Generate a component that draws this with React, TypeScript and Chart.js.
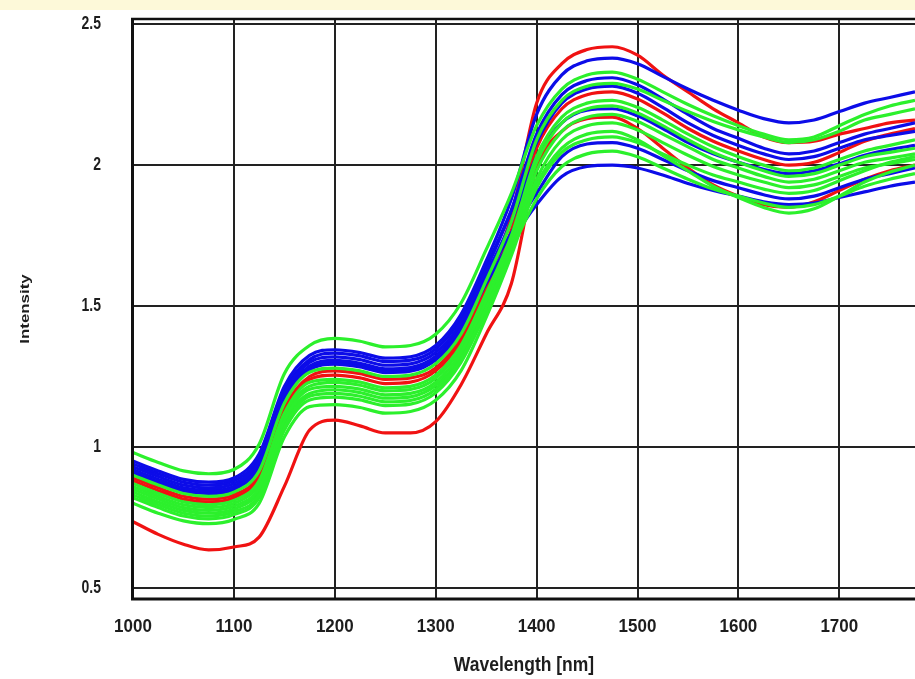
import React, { useEffect, useRef } from "react";
import { Chart, registerables } from "chart.js";

Chart.register(...registerables);

// Sampling grid of the spectra (nm)
const wavelengths = [
  1000, 1025, 1050, 1075, 1100, 1125, 1150, 1175, 1200, 1225, 1250, 1275, 1300, 1325, 1350, 1375,
  1400, 1425, 1450, 1475, 1500, 1525, 1550, 1575, 1600, 1625, 1650, 1675, 1700, 1725, 1750, 1775,
];

const xTickValues = [1000, 1100, 1200, 1300, 1400, 1500, 1600, 1700];
const yTickValues = [0.5, 1, 1.5, 2, 2.5];
const yTickLabels = ["0.5", "1", "1.5", "2", "2.5"];

// Green group spectra
const green1 = [0.98, 0.945, 0.915, 0.905, 0.92, 1.01, 1.26, 1.36, 1.385, 1.375, 1.355, 1.36, 1.4, 1.51, 1.7, 1.9, 2.14, 2.27, 2.32, 2.33, 2.305, 2.26, 2.215, 2.175, 2.14, 2.11, 2.09, 2.1, 2.14, 2.18, 2.21, 2.23];
const green2 = [0.9, 0.865, 0.835, 0.825, 0.84, 0.915, 1.155, 1.265, 1.28, 1.27, 1.25, 1.255, 1.295, 1.4, 1.59, 1.8, 2.09, 2.23, 2.28, 2.29, 2.27, 2.23, 2.19, 2.155, 2.125, 2.1, 2.08, 2.09, 2.12, 2.16, 2.18, 2.2];
const green3 = [0.87, 0.835, 0.805, 0.795, 0.81, 0.88, 1.12, 1.23, 1.24, 1.23, 1.21, 1.215, 1.255, 1.36, 1.545, 1.75, 2.03, 2.17, 2.22, 2.23, 2.205, 2.16, 2.11, 2.065, 2.03, 2.0, 1.98, 1.99, 2.02, 2.05, 2.07, 2.09];
const green4 = [0.85, 0.815, 0.785, 0.775, 0.79, 0.855, 1.095, 1.205, 1.215, 1.205, 1.185, 1.19, 1.23, 1.335, 1.52, 1.73, 2.01, 2.15, 2.2, 2.21, 2.185, 2.14, 2.09, 2.045, 2.01, 1.98, 1.96, 1.97, 2.0, 2.03, 2.045, 2.06];
const green5 = [0.83, 0.795, 0.765, 0.755, 0.77, 0.83, 1.07, 1.18, 1.19, 1.18, 1.16, 1.165, 1.205, 1.31, 1.495, 1.71, 1.98, 2.12, 2.17, 2.18, 2.155, 2.11, 2.065, 2.02, 1.99, 1.96, 1.94, 1.95, 1.98, 2.01, 2.025, 2.04];
const green6 = [0.82, 0.785, 0.755, 0.745, 0.76, 0.82, 1.06, 1.167, 1.177, 1.167, 1.147, 1.152, 1.192, 1.3, 1.48, 1.69, 1.95, 2.09, 2.14, 2.15, 2.125, 2.08, 2.035, 1.995, 1.965, 1.94, 1.92, 1.93, 1.96, 1.99, 2.005, 2.02];
const green7 = [0.8, 0.765, 0.738, 0.728, 0.743, 0.8, 1.035, 1.143, 1.15, 1.14, 1.12, 1.126, 1.166, 1.27, 1.46, 1.68, 1.93, 2.06, 2.11, 2.12, 2.09, 2.035, 1.98, 1.925, 1.885, 1.85, 1.83, 1.845, 1.89, 1.94, 1.975, 2.0];
const green8 = [0.86, 0.825, 0.795, 0.785, 0.8, 0.87, 1.11, 1.216, 1.229, 1.219, 1.199, 1.204, 1.244, 1.35, 1.53, 1.7, 1.88, 1.995, 2.04, 2.05, 2.03, 1.99, 1.95, 1.915, 1.89, 1.865, 1.85, 1.86, 1.89, 1.925, 1.95, 1.97];
const green9 = [0.84, 0.805, 0.775, 0.765, 0.78, 0.845, 1.085, 1.19, 1.203, 1.193, 1.173, 1.178, 1.218, 1.32, 1.505, 1.7, 1.92, 2.045, 2.09, 2.1, 2.08, 2.04, 2.0, 1.965, 1.94, 1.915, 1.9, 1.91, 1.945, 1.98, 2.01, 2.03];

// Blue group spectra
const blue1 = [0.95, 0.915, 0.885, 0.875, 0.89, 0.975, 1.215, 1.325, 1.345, 1.335, 1.315, 1.32, 1.36, 1.47, 1.66, 1.88, 2.18, 2.32, 2.37, 2.38, 2.36, 2.315, 2.27, 2.23, 2.195, 2.165, 2.15, 2.16, 2.19, 2.22, 2.24, 2.26];
const blue2 = [0.93, 0.895, 0.865, 0.855, 0.87, 0.95, 1.19, 1.3, 1.32, 1.31, 1.29, 1.295, 1.335, 1.44, 1.63, 1.84, 2.11, 2.25, 2.3, 2.31, 2.285, 2.235, 2.18, 2.13, 2.095, 2.06, 2.04, 2.05, 2.08, 2.11, 2.13, 2.15];
const blue3 = [0.94, 0.905, 0.875, 0.865, 0.88, 0.96, 1.2, 1.31, 1.333, 1.323, 1.303, 1.308, 1.348, 1.455, 1.64, 1.84, 2.08, 2.22, 2.27, 2.28, 2.255, 2.205, 2.15, 2.105, 2.07, 2.04, 2.02, 2.03, 2.06, 2.09, 2.105, 2.12];
const blue4 = [0.92, 0.885, 0.855, 0.845, 0.86, 0.94, 1.18, 1.287, 1.307, 1.297, 1.277, 1.282, 1.322, 1.425, 1.6, 1.76, 1.9, 2.03, 2.075, 2.08, 2.06, 2.02, 1.98, 1.945, 1.92, 1.895, 1.88, 1.89, 1.92, 1.95, 1.97, 1.99];
const blue5 = [0.91, 0.875, 0.845, 0.835, 0.85, 0.93, 1.165, 1.274, 1.294, 1.284, 1.264, 1.269, 1.309, 1.41, 1.58, 1.73, 1.86, 1.96, 1.995, 2.0, 1.99, 1.965, 1.935, 1.91, 1.89, 1.87, 1.86, 1.865, 1.885, 1.905, 1.925, 1.94];
const blue6 = [0.91, 0.875, 0.845, 0.835, 0.85, 0.93, 1.17, 1.28, 1.3, 1.29, 1.27, 1.275, 1.315, 1.42, 1.61, 1.8, 2.03, 2.15, 2.195, 2.2, 2.175, 2.13, 2.08, 2.04, 2.01, 1.985, 1.97, 1.98, 2.005, 2.035, 2.055, 2.07];

// Red group spectra
const red1 = [0.89, 0.855, 0.825, 0.815, 0.83, 0.9, 1.14, 1.25, 1.27, 1.26, 1.24, 1.245, 1.28, 1.39, 1.58, 1.82, 2.22, 2.36, 2.41, 2.42, 2.39, 2.32, 2.26, 2.2, 2.15, 2.1, 2.08, 2.085, 2.11, 2.13, 2.15, 2.16];
const red2 = [0.88, 0.845, 0.815, 0.805, 0.82, 0.89, 1.13, 1.24, 1.255, 1.245, 1.225, 1.23, 1.27, 1.375, 1.56, 1.77, 2.06, 2.2, 2.25, 2.26, 2.235, 2.185, 2.13, 2.085, 2.05, 2.02, 2.0, 2.01, 2.045, 2.085, 2.11, 2.13];
const red3 = [0.735, 0.69, 0.655, 0.635, 0.645, 0.68, 0.86, 1.06, 1.095, 1.075, 1.05, 1.05, 1.09, 1.22, 1.4, 1.58, 1.99, 2.12, 2.165, 2.17, 2.13, 2.06, 1.99, 1.93, 1.89, 1.86, 1.85, 1.87, 1.91, 1.95, 1.98, 2.0];

const GREEN = "#2cf02c";
const BLUE = "#0c0ce8";
const RED = "#f01212";

const spectra = [
  { name: "G1", color: GREEN, values: green1 },
  { name: "G2", color: GREEN, values: green2 },
  { name: "G3", color: GREEN, values: green3 },
  { name: "G4", color: GREEN, values: green4 },
  { name: "G5", color: GREEN, values: green5 },
  { name: "G6", color: GREEN, values: green6 },
  { name: "G7", color: GREEN, values: green7 },
  { name: "G8", color: GREEN, values: green8 },
  { name: "G9", color: GREEN, values: green9 },
  { name: "B1", color: BLUE, values: blue1 },
  { name: "B2", color: BLUE, values: blue2 },
  { name: "B3", color: BLUE, values: blue3 },
  { name: "B4", color: BLUE, values: blue4 },
  { name: "B5", color: BLUE, values: blue5 },
  { name: "B6", color: BLUE, values: blue6 },
  { name: "R1", color: RED, values: red1 },
  { name: "R2", color: RED, values: red2 },
  { name: "R3", color: RED, values: red3 },
];

const FONT = "'Liberation Sans', Arial, Helvetica, sans-serif";
const INK = "#1d1d1d";
const GRID = "#222222";

// Draws text stretched along one axis (sx, sy) around an anchor point
function drawText(
  ctx: CanvasRenderingContext2D,
  text: string,
  x: number,
  y: number,
  size: number,
  sx: number,
  sy: number,
  align: CanvasTextAlign,
  rotation = 0
) {
  ctx.save();
  ctx.translate(x, y);
  if (rotation) ctx.rotate(rotation);
  ctx.scale(sx, sy);
  ctx.font = `bold ${size}px ${FONT}`;
  ctx.fillStyle = INK;
  ctx.textAlign = align;
  ctx.textBaseline = "middle";
  ctx.fillText(text, 0, 0);
  ctx.restore();
}

const pagePlugin = {
  id: "page",
  beforeDraw(chart: any) {
    const { ctx, width } = chart;
    ctx.save();
    ctx.fillStyle = "#ffffff";
    ctx.fillRect(0, 0, width, chart.height);
    ctx.fillStyle = "#fdf9d9";
    ctx.fillRect(0, 0, width, 10);
    ctx.restore();
  },
  afterDatasetsDraw(chart: any) {
    const { ctx, chartArea } = chart;
    const { left, top, right, bottom } = chartArea;
    ctx.save();
    ctx.strokeStyle = "#111";
    ctx.lineWidth = 3;
    ctx.beginPath();
    ctx.moveTo(left - 0.5, top);
    ctx.lineTo(left - 0.5, bottom + 1.5);
    ctx.moveTo(left - 2, bottom);
    ctx.lineTo(right, bottom);
    ctx.stroke();
    ctx.lineWidth = 2.5;
    ctx.beginPath();
    ctx.moveTo(left - 2, top);
    ctx.lineTo(right, top);
    ctx.stroke();
    ctx.restore();
  },
  afterDraw(chart: any) {
    const { ctx, scales, chartArea } = chart;
    const xs = scales.x;
    const ys = scales.y;
    xTickValues.forEach((v) => {
      drawText(ctx, String(v), xs.getPixelForValue(v), 627, 17, 1, 1.12, "center");
    });
    yTickValues.forEach((v, i) => {
      const py = Math.max(ys.getPixelForValue(v), 23);
      drawText(ctx, yTickLabels[i], 101, py, 14, 1, 1.3, "right");
    });
    drawText(ctx, "Wavelength [nm]", (chartArea.left + chartArea.right) / 2, 666, 17.5, 1, 1.12, "center");
    drawText(ctx, "Intensity", 25, 309, 13, 1.3, 1, "center", -Math.PI / 2);
  },
};

export default function App() {
  const canvasRef = useRef<HTMLCanvasElement | null>(null);

  useEffect(() => {
    const canvas = canvasRef.current;
    if (!canvas) return;
    const chart = new Chart(canvas, {
      type: "line",
      data: {
        datasets: spectra.map((s) => ({
          label: s.name,
          data: wavelengths.map((w, i) => ({ x: w, y: s.values[i] })),
          borderColor: s.color,
          backgroundColor: s.color,
          borderWidth: 3.2,
          pointRadius: 0,
          fill: false,
          cubicInterpolationMode: "monotone" as const,
        })),
      },
      options: {
        responsive: false,
        animation: false,
        devicePixelRatio: 1,
        layout: { padding: { top: 19, right: 0, bottom: 0, left: 0 } },
        plugins: {
          legend: { display: false },
          tooltip: { enabled: false },
          title: { display: false },
        },
        scales: {
          x: {
            type: "linear",
            min: 1000,
            max: 1775,
            afterBuildTicks: (scale: any) => {
              scale.ticks = xTickValues.map((v) => ({ value: v }));
            },
            afterFit: (scale: any) => {
              scale.height = 80;
            },
            ticks: { display: false },
            grid: { color: GRID, lineWidth: 2, drawTicks: false },
            border: { display: false },
          },
          y: {
            type: "linear",
            min: 0.4606,
            max: 2.5185,
            afterBuildTicks: (scale: any) => {
              scale.ticks = yTickValues.map((v) => ({ value: v }));
            },
            afterFit: (scale: any) => {
              scale.width = 133;
            },
            ticks: { display: false },
            grid: { color: GRID, lineWidth: 2, drawTicks: false },
            border: { display: false },
          },
        },
      },
      plugins: [pagePlugin],
    });
    return () => chart.destroy();
  }, []);

  return (
    <div style={{ position: "absolute", left: 0, top: 0, width: 915, height: 679, background: "#fff" }}>
      <canvas ref={canvasRef} width={915} height={679} style={{ display: "block" }} />
    </div>
  );
}
